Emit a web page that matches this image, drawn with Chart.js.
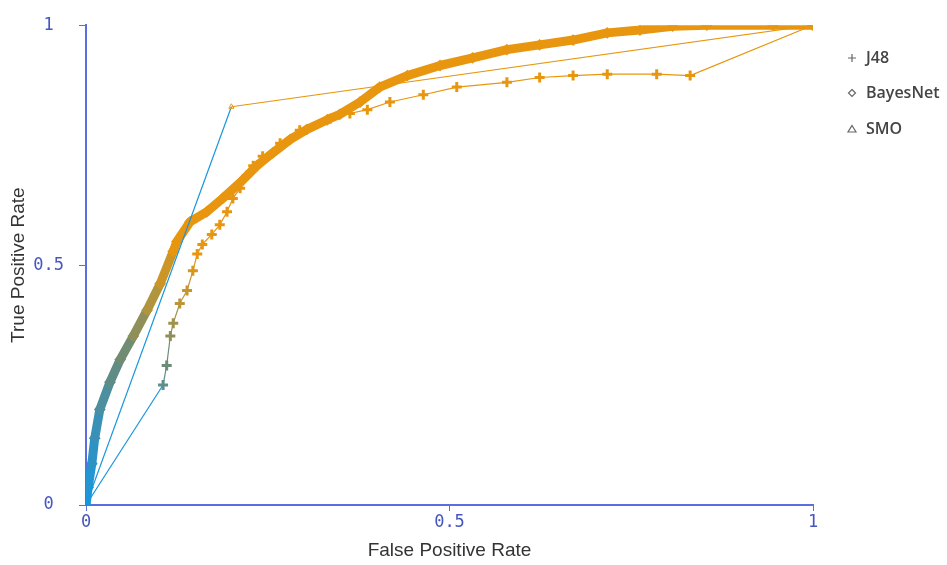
<!DOCTYPE html>
<html>
<head>
<meta charset="utf-8">
<script src="https://cdn.jsdelivr.net/npm/chart.js@4/dist/chart.umd.min.js"></script>
<style>
  html, body { margin: 0; padding: 0; background: #fff; }
</style>
</head>
<body>
<canvas id="rocChart" width="947" height="565"></canvas>
<script>
// ROC points (false positive rate / true positive rate)
const seriesNames = ["J48", "BayesNet", "SMO"];

const j48Fpr = [0, 0.106, 0.111, 0.116, 0.120, 0.129, 0.139, 0.147, 0.153, 0.160, 0.173, 0.184, 0.194, 0.202, 0.212, 0.221, 0.230, 0.243, 0.267, 0.294, 0.336, 0.363, 0.387, 0.418, 0.464, 0.510, 0.579, 0.624, 0.670, 0.717, 0.785, 0.831, 1];
const j48Tpr = [0, 0.250, 0.291, 0.352, 0.379, 0.420, 0.447, 0.488, 0.523, 0.543, 0.564, 0.584, 0.611, 0.639, 0.660, 0.686, 0.707, 0.727, 0.754, 0.781, 0.805, 0.816, 0.824, 0.840, 0.855, 0.871, 0.881, 0.891, 0.895, 0.898, 0.898, 0.895, 1];

const bayesFpr = [0, 0.003, 0.008, 0.012, 0.019, 0.033, 0.047, 0.065, 0.084, 0.102, 0.120, 0.125, 0.143, 0.166, 0.188, 0.212, 0.235, 0.257, 0.281, 0.304, 0.332, 0.349, 0.377, 0.404, 0.442, 0.487, 0.532, 0.579, 0.624, 0.670, 0.717, 0.762, 0.807, 0.854, 0.945, 1];
const bayesTpr = [0, 0.037, 0.086, 0.139, 0.199, 0.256, 0.303, 0.352, 0.406, 0.461, 0.529, 0.549, 0.590, 0.611, 0.639, 0.672, 0.707, 0.734, 0.762, 0.783, 0.803, 0.814, 0.840, 0.871, 0.895, 0.916, 0.932, 0.949, 0.959, 0.969, 0.984, 0.990, 0.998, 1, 1, 1];

const smoFpr = [0, 0.2, 1];
const smoTpr = [0, 0.83, 1];

const xTicks = [0, 0.5, 1];
const yTicks = [0, 0.5, 1];

const axisColor = "#5b6de0";
const tickLabelColor = "#4656c0";

// colour goes from blue near the origin to orange higher up, like Weka's threshold shading
const colorStops = [
  [0.00, [25, 150, 220]],
  [0.15, [60, 145, 180]],
  [0.30, [110, 140, 115]],
  [0.42, [185, 150, 55]],
  [0.52, [232, 150, 15]],
  [1.00, [232, 150, 15]]
];
function colorFor(t) {
  for (let i = 1; i < colorStops.length; i++) {
    const [t1, c1] = colorStops[i];
    const [t0, c0] = colorStops[i - 1];
    if (t <= t1) {
      const k = (t - t0) / (t1 - t0);
      const c = c0.map((v, j) => Math.round(v + (c1[j] - v) * k));
      return `rgb(${c[0]},${c[1]},${c[2]})`;
    }
  }
  return "rgb(232,150,15)";
}

function toPoints(xs, ys) {
  return xs.map((x, i) => ({ x: x, y: ys[i] }));
}

function segColor(ctx) {
  const ds = ctx.chart.data.datasets[ctx.datasetIndex];
  return colorFor(ds.data[ctx.p0DataIndex].y);
}
function pointColor(ctx) {
  return ctx.raw ? colorFor(ctx.raw.y) : "#888";
}

// legend drawn at the right, Weka style
const sideLegend = {
  id: "sideLegend",
  afterDraw(chart) {
    const ctx = chart.ctx;
    const rows = [
      { text: seriesNames[0], y: 58, mark: "plus" },
      { text: seriesNames[1], y: 93, mark: "diamond" },
      { text: seriesNames[2], y: 129, mark: "triangle" }
    ];
    ctx.save();
    rows.forEach(r => {
      const mx = 852;
      ctx.strokeStyle = "#666";
      ctx.lineWidth = 1.2;
      ctx.beginPath();
      if (r.mark === "plus") {
        ctx.moveTo(mx - 4, r.y); ctx.lineTo(mx + 4, r.y);
        ctx.moveTo(mx, r.y - 4); ctx.lineTo(mx, r.y + 4);
      } else if (r.mark === "diamond") {
        ctx.moveTo(mx, r.y - 3.5); ctx.lineTo(mx + 3.5, r.y);
        ctx.lineTo(mx, r.y + 3.5); ctx.lineTo(mx - 3.5, r.y); ctx.closePath();
      } else {
        ctx.moveTo(mx, r.y - 3.5); ctx.lineTo(mx + 4, r.y + 3);
        ctx.lineTo(mx - 4, r.y + 3); ctx.closePath();
      }
      ctx.stroke();
      ctx.fillStyle = "#444";
      ctx.font = "600 16px 'Open Sans'";
      ctx.textBaseline = "middle";
      ctx.textAlign = "left";
      ctx.fillText(r.text, 866, r.y);
    });
    ctx.restore();
  }
};

const ctx = document.getElementById("rocChart").getContext("2d");
new Chart(ctx, {
  type: "scatter",
  data: {
    datasets: [
      {
        label: seriesNames[2],
        data: toPoints(smoFpr, smoTpr),
        showLine: true,
        borderWidth: 1.2,
        pointStyle: "triangle",
        pointRadius: 3,
        pointBorderWidth: 1,
        pointBackgroundColor: "transparent",
        pointBorderColor: pointColor,
        segment: { borderColor: segColor },
        order: 0
      },
      {
        label: seriesNames[1],
        data: toPoints(bayesFpr, bayesTpr),
        showLine: true,
        borderWidth: 9,
        borderJoinStyle: "round",
        borderCapStyle: "round",
        pointStyle: "rectRot",
        pointRadius: 4.5,
        pointBorderWidth: 2,
        pointBackgroundColor: pointColor,
        pointBorderColor: pointColor,
        segment: { borderColor: segColor },
        order: 1
      },
      {
        label: seriesNames[0],
        data: toPoints(j48Fpr, j48Tpr),
        showLine: true,
        borderWidth: 1.2,
        pointStyle: "cross",
        pointRadius: 5,
        pointBorderWidth: 3,
        pointBorderColor: pointColor,
        segment: { borderColor: segColor },
        order: 2
      }
    ]
  },
  options: {
    responsive: false,
    animation: false,
    layout: { padding: { top: 17, right: 134, left: 0, bottom: 0 } },
    plugins: {
      legend: { display: false },
      tooltip: { enabled: false }
    },
    scales: {
      x: {
        type: "linear",
        min: 0,
        max: 1,
        afterFit: s => { s.height = 60; },
        afterBuildTicks: s => { s.ticks = xTicks.map(v => ({ value: v })); },
        ticks: {
          color: tickLabelColor,
          font: { family: "'DejaVu Sans Mono'", size: 17 },
          padding: 1,
          callback: v => String(v)
        },
        grid: { drawOnChartArea: false, drawTicks: true, tickLength: 6, color: axisColor },
        border: { color: axisColor, width: 2 },
        title: {
          display: true,
          text: "False Positive Rate",
          color: "#333",
          font: { family: "'Liberation Sans'", size: 19 },
          padding: { top: 0, bottom: 3 }
        }
      },
      y: {
        type: "linear",
        min: 0,
        max: 1,
        afterFit: s => { s.width = 86; },
        afterBuildTicks: s => { s.ticks = yTicks.map(v => ({ value: v })); },
        ticks: {
          color: tickLabelColor,
          font: { family: "'DejaVu Sans Mono'", size: 17 },
          padding: 15,
          crossAlign: "center",
          callback: v => String(v)
        },
        grid: { drawOnChartArea: false, drawTicks: true, tickLength: 7, color: axisColor },
        border: { color: axisColor, width: 2 },
        title: {
          display: true,
          text: "True Positive Rate",
          color: "#333",
          font: { family: "'Liberation Sans'", size: 19 },
          padding: { top: 7, bottom: 0 }
        }
      }
    }
  },
  plugins: [sideLegend]
});
</script>
</body>
</html>
